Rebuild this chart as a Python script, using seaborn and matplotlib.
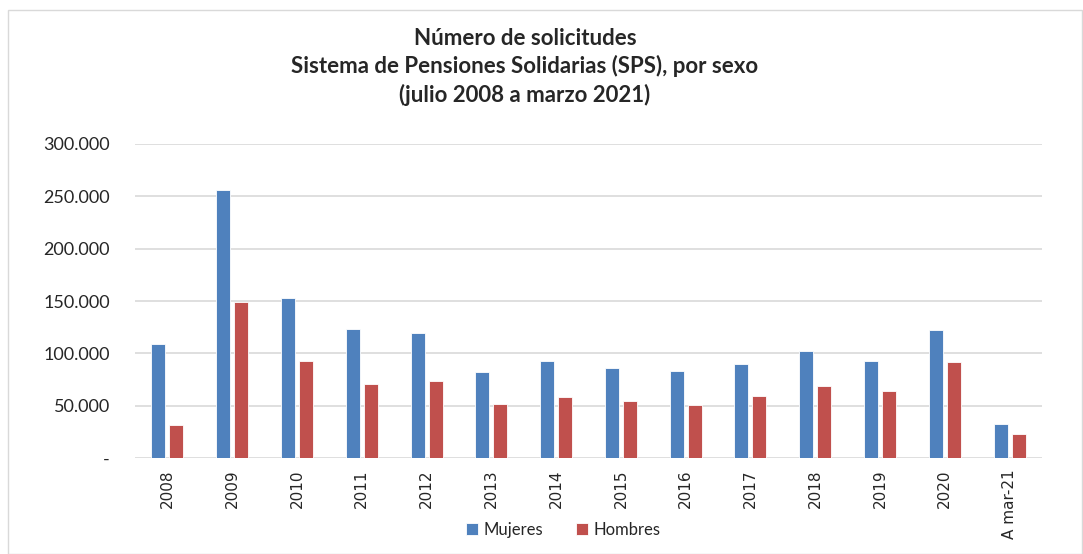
import numpy as np
import pandas as pd
import matplotlib
matplotlib.use("Agg")
import matplotlib.pyplot as plt
import seaborn as sns
from matplotlib.ticker import FuncFormatter
from matplotlib.patches import Rectangle

periodos = ["2008", "2009", "2010", "2011", "2012", "2013", "2014",
            "2015", "2016", "2017", "2018", "2019", "2020", "A mar-21"]
mujeres = [108900, 256000, 153000, 123000, 119000, 82000, 92900,
           86200, 83000, 89700, 102500, 92900, 121900, 32200]
hombres = [32000, 148800, 92900, 71000, 73400, 52000, 58700,
           54900, 50400, 59000, 68600, 63800, 91300, 23300]
series = ["Mujeres", "Hombres"]
colores = ["#4F81BD", "#C0504D"]

df = pd.DataFrame({
    "periodo": periodos * 2,
    "sexo": [series[0]] * len(periodos) + [series[1]] * len(periodos),
    "valor": mujeres + hombres,
})

sns.set_theme(style="white")
plt.rcParams["font.family"] = ["Lato", "DejaVu Sans"]

fig = plt.figure(figsize=(10.83, 5.54), dpi=100)
fig.patches.append(Rectangle((8 / 1083, 0), 1 - 9 / 1083, 1 - 10 / 554,
                             transform=fig.transFigure, fill=False,
                             edgecolor="#d9d9d9", linewidth=1))
ax = fig.add_axes([135 / 1083, 96 / 554, 907 / 1083, 314 / 554])

sns.barplot(data=df, x="periodo", y="valor", hue="sexo", order=periodos,
            hue_order=series, palette=colores, width=0.555, gap=0.22,
            edgecolor="white", linewidth=0.6, saturation=1, ax=ax, zorder=3)

ax.set_ylim(0, 300000)
ax.set_xlim(-0.5, len(periodos) - 0.5)
ax.set_yticks(np.arange(0, 300001, 50000))
ax.yaxis.set_major_formatter(FuncFormatter(
    lambda v, p: "-" if v == 0 else f"{int(v):,}".replace(",", ".")))
ax.grid(axis="y", color="#d9d9d9", linewidth=1.2, zorder=0)
ax.set_axisbelow(True)
for s in ax.spines.values():
    s.set_visible(False)
ax.set_xlabel("")
ax.set_ylabel("")
ax.tick_params(axis="y", labelsize=13, pad=18, length=0)
ax.tick_params(axis="x", labelsize=11, rotation=90, length=0, pad=8)
for t in ax.get_xticklabels():
    t.set_fontfamily(["DejaVu Sans"])

ax.legend(loc="center", bbox_to_anchor=(563 / 1083, 24 / 554),
          bbox_transform=fig.transFigure, ncol=2, frameon=False,
          fontsize=12, handlelength=0.75, handleheight=0.75,
          handletextpad=0.3, columnspacing=2.0)

fig.text(525 / 1083, 1 - 67 / 554,
         "Número de solicitudes\nSistema de Pensiones Solidarias (SPS), por sexo\n(julio 2008 a marzo 2021)",
         ha="center", va="center", fontsize=16, fontweight="bold",
         linespacing=1.38)

fig.savefig("out.png", dpi=100)
